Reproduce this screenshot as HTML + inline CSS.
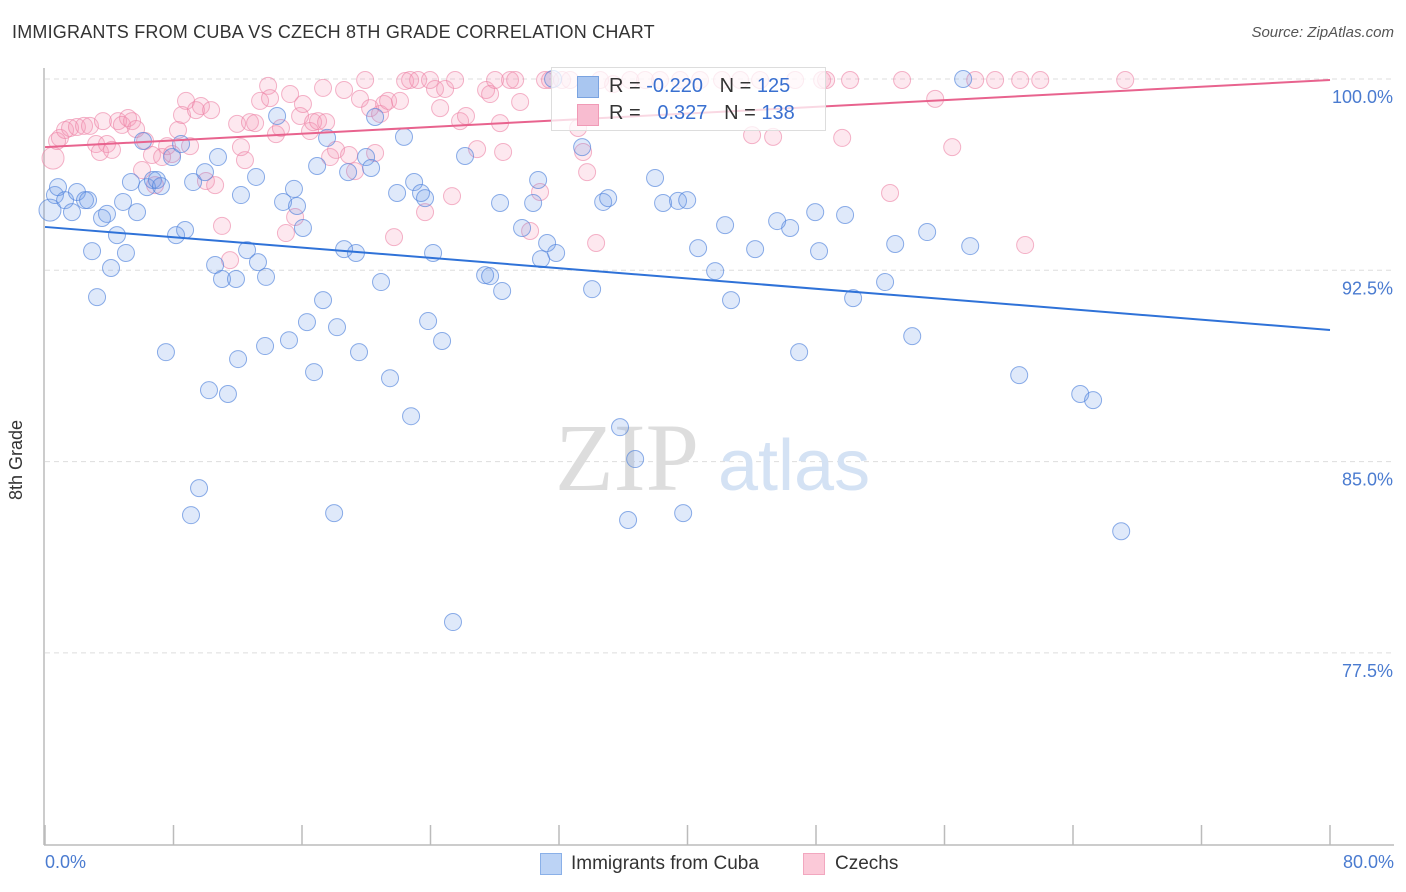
<!DOCTYPE html>
<html><head><meta charset="utf-8"><style>
body{margin:0;background:#fff;font-family:"Liberation Sans",sans-serif;}
#wrap{position:relative;width:1406px;height:892px;overflow:hidden;}
.t{position:absolute;white-space:nowrap;}
</style></head><body>
<div id="wrap">
<div class="t" style="left:12px;top:22px;font-size:18px;color:#333;letter-spacing:0.2px">IMMIGRANTS FROM CUBA VS CZECH 8TH GRADE CORRELATION CHART</div>
<div class="t" style="right:12px;top:24px;font-size:15px;color:#555;font-style:italic">Source: ZipAtlas.com</div>
<svg id="svg" width="1406" height="892" style="position:absolute;left:0;top:0"></svg>
</div>
<script>
const blueX=[0.31,0.62,0.81,1.25,1.68,1.99,2.49,2.68,2.93,3.24,3.55,3.86,4.11,4.48,4.86,5.04,5.35,5.73,6.10,6.35,6.72,6.97,7.22,7.53,7.91,8.16,8.47,8.72,9.22,9.59,9.09,9.96,10.21,10.59,10.77,11.02,11.39,11.89,12.02,12.20,12.58,13.14,13.26,13.70,13.76,14.45,14.82,15.19,15.50,15.69,16.06,16.31,16.75,16.94,17.31,17.56,18.00,18.18,18.62,18.87,19.36,19.55,19.99,20.30,20.55,20.92,21.48,21.92,22.35,22.79,22.98,23.41,23.66,23.85,24.16,24.72,25.40,26.15,27.40,27.71,28.33,28.46,29.70,30.39,30.70,30.88,31.26,31.82,31.63,33.44,34.06,34.75,35.06,35.80,36.30,36.74,37.98,38.48,39.41,39.73,39.98,40.66,41.72,42.34,42.71,44.21,45.58,46.39,46.95,47.95,48.19,49.81,50.31,52.30,52.93,53.99,54.92,57.16,57.60,60.65,64.45,65.25,67.00];
const blueY=[94.86,95.45,95.76,95.25,94.78,95.57,95.25,95.25,93.25,91.45,94.55,94.71,92.59,93.88,95.18,93.18,95.96,94.78,97.57,95.76,96.04,96.04,95.80,89.29,96.94,93.88,97.45,94.08,95.96,83.96,82.90,96.35,87.80,92.71,96.94,92.16,87.65,92.16,89.02,95.45,93.29,96.16,92.82,89.53,92.24,98.55,95.18,89.76,95.69,95.02,94.16,90.47,88.51,96.59,91.33,97.69,82.98,90.27,93.33,96.35,93.18,89.29,96.94,96.51,98.51,92.04,88.27,95.53,97.73,86.78,95.96,95.53,95.33,90.51,93.18,89.73,78.71,96.98,92.31,92.27,95.14,91.69,94.16,95.14,96.04,92.94,93.57,93.18,100,97.33,91.76,95.18,95.33,86.35,82.71,85.10,96.12,95.14,95.22,82.98,95.25,93.37,92.47,94.27,91.33,93.33,94.43,94.16,89.29,94.78,93.25,94.67,91.41,92.04,93.53,89.92,94.00,100,93.45,88.39,87.65,87.41,82.27];
const pinkX=[0.50,0.75,0.93,1.25,1.56,1.99,2.43,2.80,3.18,3.42,3.61,3.86,4.17,4.55,4.79,5.17,5.42,5.67,6.04,6.23,6.66,6.85,7.29,7.60,7.91,8.28,8.53,8.78,9.03,9.40,9.71,10.02,10.34,10.59,11.02,11.52,11.96,12.20,12.45,12.76,13.08,13.39,13.89,14.01,14.38,14.69,15.00,15.26,15.57,15.88,16.06,16.50,16.69,17.00,17.31,17.50,17.75,18.12,18.62,18.93,19.30,19.61,19.93,20.24,20.55,20.86,21.11,21.36,21.73,22.10,22.42,22.73,23.23,23.66,23.97,24.28,24.60,24.91,25.34,25.53,25.84,26.21,26.90,27.46,27.71,28.02,28.33,28.52,28.95,29.27,29.58,30.20,30.82,31.13,31.44,32.19,32.69,33.19,33.50,33.75,34.31,34.56,35.37,36.43,37.36,38.29,39.54,40.78,42.15,43.28,44.02,44.52,45.33,46.70,48.38,48.63,49.63,50.12,52.61,53.36,55.42,56.48,57.91,59.15,60.71,61.02,61.96,67.25];
const pinkY=[96.90,97.57,97.69,98.00,98.08,98.12,98.16,98.16,97.45,97.14,98.35,97.45,97.22,98.35,98.20,98.47,98.35,98.04,96.43,97.57,97.02,95.84,96.94,97.37,97.06,98.00,98.59,99.14,97.37,98.78,98.94,96.00,98.78,95.84,94.24,92.90,98.24,97.33,96.82,98.31,98.27,99.14,99.73,99.25,97.84,98.08,93.96,99.41,94.59,98.55,99.02,97.96,98.31,98.35,99.65,98.31,96.94,97.22,99.57,97.02,96.39,99.22,99.96,98.86,97.10,98.63,99.02,99.14,93.80,99.14,99.92,99.96,99.96,94.78,99.96,99.61,98.86,99.61,95.41,99.96,98.35,98.55,97.25,99.57,99.41,99.96,98.27,97.14,99.96,99.96,99.10,94.04,95.57,99.96,99.96,99.96,99.96,98.08,97.14,96.35,93.57,99.96,99.80,99.96,99.96,99.96,99.96,99.96,99.96,99.96,97.80,99.96,97.73,99.96,99.96,99.96,97.69,99.96,95.53,99.96,99.22,97.33,99.96,99.96,99.96,93.49,99.96,99.96];
const blueTrend=[94.2,90.16];
const pinkTrend=[97.33,99.96];
const yTicks=[100,92.5,85,77.5];
const yTickLabels=["100.0%","92.5%","85.0%","77.5%"];
const xTickVals=[0,8,16,24,32,40,48,56,64,72,80];

const NS="http://www.w3.org/2000/svg";
const svg=document.getElementById('svg');
const X0=45,X1=1330,Y100=79,PX=191.3/7.5;
const sx=v=>X0+(v/80)*(X1-X0);
const sy=v=>Y100+(100-v)*PX;
function mk(tag,attrs,parent){const e=document.createElementNS(NS,tag);for(const k in attrs)e.setAttribute(k,attrs[k]);(parent||svg).appendChild(e);return e;}

yTicks.forEach((v,i)=>{
  const g=mk('line',{x1:45,x2:1394,y1:sy(v),y2:sy(v),stroke:'#ddd','stroke-dasharray':'5,4','stroke-width':1});
  
  
  const t=mk('text',{x:1393,y:sy(v)+24,'text-anchor':'end','font-size':18,fill:'#4a7bd0','font-family':'Liberation Sans, sans-serif'});
  t.textContent=yTickLabels[i];
  
  
});
const ax=mk('line',{x1:44,x2:1394,y1:845,y2:845,stroke:'#bbb','stroke-width':1.5});


const ay=mk('line',{x1:44,x2:44,y1:68,y2:845,stroke:'#bbb','stroke-width':1.5});


xTickVals.forEach(v=>{
  const l=mk('line',{x1:sx(v),x2:sx(v),y1:825,y2:845,stroke:'#bbb','stroke-width':1.5});
  
  
});
// watermark
const wm=mk('text',{x:555,y:490,'font-size':96,fill:'#ddd','font-family':'Liberation Serif, serif'});
wm.textContent='ZIP';


const wm2=mk('text',{x:718,y:490,'font-size':72,fill:'#d4e2f4','font-family':'Liberation Sans, sans-serif'});
wm2.textContent='atlas';



pinkX.forEach((x,i)=>{
  const c=mk('circle',{cx:sx(x),cy:sy(pinkY[i]),r:i===0?11:8.5,fill:'rgba(244,150,180,0.22)',stroke:'rgba(236,130,165,0.6)','stroke-width':1});
  
  
});
blueX.forEach((x,i)=>{
  const c=mk('circle',{cx:sx(x),cy:sy(blueY[i]),r:i===0?11:8.5,fill:'rgba(110,155,230,0.22)',stroke:'rgba(80,130,220,0.65)','stroke-width':1});
  
  
});
const bl=mk('line',{x1:sx(0),y1:sy(blueTrend[0]),x2:sx(80),y2:sy(blueTrend[1]),stroke:'#2f72d8','stroke-width':2});


const pl=mk('line',{x1:sx(0),y1:sy(pinkTrend[0]),x2:sx(80),y2:sy(pinkTrend[1]),stroke:'#e8638e','stroke-width':2});


</script>
<div class="t" style="left:551px;top:67px;width:273px;height:62px;border:1px solid #ddd;background:rgba(255,255,255,0.75)">
  <div class="t" style="left:25px;top:8px;width:20px;height:20px;background:#a9c6f0;border:1px solid #7aa3e0"></div>
  <div class="t" style="left:57px;top:7px;font-size:20px;color:#333">R = <span style="color:#3a70d0">-0.220</span>&nbsp;&nbsp;&nbsp;N = <span style="color:#3a70d0">125</span></div>
  <div class="t" style="left:25px;top:36px;width:20px;height:20px;background:#f8bcd0;border:1px solid #f09ab6"></div>
  <div class="t" style="left:57px;top:34px;font-size:20px;color:#333">R = &nbsp;&nbsp;<span style="color:#3a70d0">0.327</span>&nbsp;&nbsp;&nbsp;N = <span style="color:#3a70d0">138</span></div>
</div>
<div class="t" style="left:45px;top:852px;font-size:18px;color:#4a7bd0">0.0%</div>
<div class="t" style="right:12px;top:852px;font-size:18px;color:#4a7bd0">80.0%</div>
<div class="t" style="left:6px;top:500px;font-size:18px;color:#333;transform:rotate(-90deg);transform-origin:left top">8th Grade</div>
<div class="t" style="left:540px;top:853px;width:20px;height:20px;background:#bcd3f5;border:1px solid #8ab0e8"></div>
<div class="t" style="left:571px;top:853px;font-size:19px;color:#333">Immigrants from Cuba</div>
<div class="t" style="left:803px;top:853px;width:20px;height:20px;background:#fbc9d8;border:1px solid #f2a7bf"></div>
<div class="t" style="left:835px;top:853px;font-size:19px;color:#333">Czechs</div>
</body></html>
